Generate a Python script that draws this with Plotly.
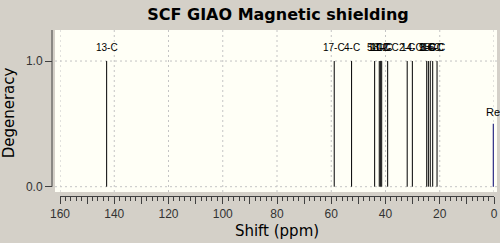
import plotly.graph_objects as go

# Data
shifts = [142.8, 58.9, 52.5, 44.0, 42.3, 41.9, 41.4, 39.2, 32.0, 30.1, 24.8, 24.2, 23.5, 22.6, 21.0]
labels = ["13-C", "17-C", "4-C", "5-C", "18-C", "11-C", "10-C", "12-C", "2-C", "14-C", "9-C", "8-C", "15-C", "16-C", "6-C"]
degeneracy = [1.0] * len(shifts)
ref_shift = [0.2]
ref_label = ["Re"]
ref_height = [0.5]
x_tickvals = [160, 150, 140, 130, 120, 110, 100, 90, 80, 70, 60, 50, 40, 30, 20, 10, 0]
x_ticktext = ["160", "", "140", "", "120", "", "100", "", "80", "", "60", "", "40", "", "20", "", "0"]
x_gridvals = [160, 140, 120, 100, 80, 60, 40, 20, 0]
y_tickvals = [0, 1]
y_ticktext = ["0.0", "1.0"]

PAPER = "#D4D0C8"
PLOTBG = "#FFFFF6"
GRID = "#C4C4C4"
W, H = 500, 243
ML, MR, MT, MB = 50, 6, 30, 47
PW = W - ML - MR
PH = H - MT - MB

def stick_xy(xs, hs):
    X, Y = [], []
    for x, h in zip(xs, hs):
        X += [x, x, None]
        Y += [0, h, None]
    return X, Y

fig = go.Figure()
sx, sy = stick_xy(shifts, degeneracy)
fig.add_trace(go.Scatter(x=sx, y=sy, mode="lines", line=dict(color="black", width=1),
                         hoverinfo="skip", showlegend=False))
rx, ry = stick_xy(ref_shift, ref_height)
fig.add_trace(go.Scatter(x=rx, y=ry, mode="lines", line=dict(color="#3A3A8C", width=1.5),
                         hoverinfo="skip", showlegend=False))

annos = []
for x, h, t in zip(shifts, degeneracy, labels):
    annos.append(dict(x=x, y=h, text=t, showarrow=False, yshift=14, xanchor="center",
                      yanchor="middle", font=dict(family="Liberation Sans", size=10, color="black")))
for x, h, t in zip(ref_shift, ref_height, ref_label):
    annos.append(dict(x=x, y=h, text=t, showarrow=False, yshift=12, xanchor="center",
                      yanchor="middle", font=dict(family="Liberation Sans", size=11, color="black")))

yr_top = 1.247
yr_bot = -0.074

fig.update_layout(
    width=W, height=H,
    margin=dict(l=ML, r=MR, t=MT, b=MB, autoexpand=False),
    paper_bgcolor=PAPER,
    plot_bgcolor="rgba(0,0,0,0)",
    title=dict(text="<b>SCF GIAO Magnetic shielding</b>", x=(278 - 0) / W, xanchor="center",
               y=1 - 14 / H, yanchor="middle", yref="container",
               font=dict(family="DejaVu Sans", size=16, color="black")),
    xaxis=dict(domain=[10 / PW, 1], range=[160, 0], showline=True, linecolor="#404040", linewidth=1,
               automargin=False,
               ticks="outside", ticklen=7, tickcolor="#404040", tickvals=x_tickvals, ticktext=x_ticktext,
               minor=dict(dtick=2, ticks="outside", ticklen=4, tickcolor="#404040", showgrid=False),
               showgrid=False, zeroline=False,
               tickfont=dict(family="Liberation Sans", size=12, color="#333333"),
               title=dict(text="Shift (ppm)", standoff=5,
                          font=dict(family="DejaVu Sans", size=15, color="black"))),
    yaxis=dict(anchor="free", position=2 / PW, range=[yr_bot, yr_top], showline=False,
               automargin=False,
               ticks="outside", ticklen=7, tickcolor="#404040", tickvals=y_tickvals, ticktext=y_ticktext,
               showgrid=False, zeroline=False,
               tickfont=dict(family="Liberation Sans", size=12, color="#333333"),
               title=dict(text="Degeneracy", standoff=6,
                          font=dict(family="DejaVu Sans", size=15, color="black"))),
    annotations=annos,
    shapes=[
        dict(type="rect", xref="paper", yref="paper", x0=5 / PW, x1=(497 - ML) / PW,
             y0=(196 - 192) / PH, y1=1, fillcolor=PLOTBG, line=dict(width=0), layer="below"),
        dict(type="line", xref="paper", yref="y", x0=2 / PW, x1=2 / PW, y0=0, y1=yr_top,
             line=dict(color="#404040", width=1), layer="above"),
    ] + [
        dict(type="line", xref="x", yref="paper", x0=v, x1=v, y0=(196 - 192) / PH, y1=1,
             line=dict(color=GRID, width=1, dash="2px,3px"), layer="below")
        for v in x_gridvals
    ] + [
        dict(type="line", xref="paper", yref="y", x0=5 / PW, x1=(497 - ML) / PW, y0=v, y1=v,
             line=dict(color=GRID, width=1, dash="2px,3px"), layer="below")
        for v in y_tickvals
    ],
)

fig.write_html("out.html")
